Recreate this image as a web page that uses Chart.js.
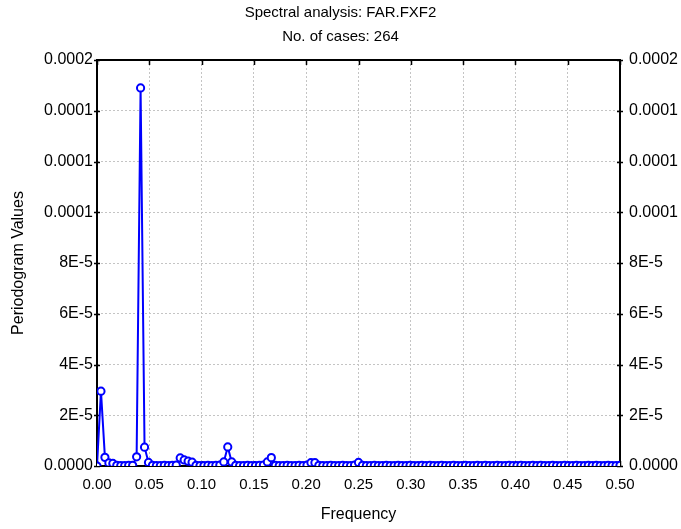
<!DOCTYPE html>
<html>
<head>
<meta charset="utf-8">
<script src="https://cdn.jsdelivr.net/npm/chart.js@4.4.1/dist/chart.umd.min.js"></script>
<style>
  html, body { margin: 0; padding: 0; background: #fff; }
  #chart { display: block; }
</style>
</head>
<body>
<canvas id="chart" width="681" height="529"></canvas>
<script>
// Periodogram of FAR.FXF2, one value per Fourier frequency k/264, k = 0..132
const N_CASES = 264;
const periodogram = [
    0, 2.95e-5, 3.4e-6, 1.2e-6, 1.0e-6, 3e-7, 2e-7, 2e-7, 3e-7, 3e-7,
    3.6e-6, 1.49e-4, 7.4e-6, 1.4e-6, 3e-7, 2e-7, 2e-7, 3e-7, 2e-7, 3e-7,
    4e-7, 3.2e-6, 2.4e-6, 1.9e-6, 1.5e-6, 3e-7, 2e-7, 2e-7, 3e-7, 2e-7,
    3e-7, 4e-7, 1.6e-6, 7.5e-6, 1.6e-6, 3e-7, 2e-7, 2e-7, 3e-7, 2e-7,
    2e-7, 3e-7, 4e-7, 1.6e-6, 3.3e-6, 3e-7, 2e-7, 2e-7, 3e-7, 2e-7,
    2e-7, 3e-7, 2e-7, 4e-7, 1.3e-6, 1.3e-6, 3e-7, 2e-7, 2e-7, 3e-7,
    2e-7, 2e-7, 3e-7, 2e-7, 2e-7, 4e-7, 1.4e-6, 3e-7, 2e-7, 2e-7,
    3e-7, 2e-7, 2e-7, 3e-7, 2e-7, 2e-7, 3e-7, 2e-7, 2e-7, 3e-7,
    2e-7, 2e-7, 3e-7, 2e-7, 3e-7, 2e-7, 2e-7, 3e-7, 2e-7, 2e-7,
    3e-7, 2e-7, 2e-7, 3e-7, 2e-7, 2e-7, 3e-7, 2e-7, 3e-7, 2e-7,
    2e-7, 3e-7, 2e-7, 2e-7, 3e-7, 2e-7, 2e-7, 3e-7, 2e-7, 2e-7,
    3e-7, 2e-7, 3e-7, 2e-7, 2e-7, 3e-7, 2e-7, 2e-7, 3e-7, 2e-7,
    2e-7, 3e-7, 2e-7, 2e-7, 3e-7, 2e-7, 3e-7, 2e-7, 2e-7, 3e-7,
    2e-7, 2e-7, 3e-7
];

// axis ticks
const xTicks = [0, 0.05, 0.10, 0.15, 0.20, 0.25, 0.30, 0.35, 0.40, 0.45, 0.50];
const yTicks = [0, 2e-5, 4e-5, 6e-5, 8e-5, 1.0e-4, 1.2e-4, 1.4e-4, 1.6e-4];

const points = periodogram.map((v, k) => ({ x: k / N_CASES, y: v }));

const FONT = "'Liberation Sans', Arial, sans-serif";

// y labels the way the source program prints them
function yLabel(v) {
    if (Math.abs(v) < 1e-12) return "0.0000";
    if (v < 1e-4 - 1e-12) return Math.round(v / 1e-5) + "E-5";
    return v.toFixed(4);
}

// black frame around the plot with small tick marks
const frame = {
    id: "frame",
    beforeDatasetsDraw(chart) {
        const { ctx, chartArea: a, scales } = chart;
        ctx.save();
        ctx.strokeStyle = "#000";
        ctx.lineWidth = 1.5;
        ctx.beginPath();
        xTicks.forEach(t => {
            const px = Math.round(scales.x.getPixelForValue(t)) + 0.5;
            ctx.moveTo(px, a.top); ctx.lineTo(px, a.top + 5);
            ctx.moveTo(px, a.bottom); ctx.lineTo(px, a.bottom - 5);
        });
        yTicks.forEach(t => {
            const py = Math.round(scales.y.getPixelForValue(t)) + 0.5;
            ctx.moveTo(a.left - 3, py); ctx.lineTo(a.left + 3, py);
            ctx.moveTo(a.right - 3, py); ctx.lineTo(a.right + 3, py);
        });
        ctx.stroke();
        ctx.lineWidth = 2;
        ctx.strokeRect(a.left, a.top, a.right - a.left, a.bottom - a.top);
        ctx.restore();
    }
};

const gridStyle = {
    color: "#c4c4c4",
    lineWidth: 1,
    drawTicks: false,
};

const ctx = document.getElementById("chart").getContext("2d");
const chart = new Chart(ctx, {
    type: "line",
    data: {
        datasets: [{
            data: points,
            borderColor: "#0000ff",
            borderWidth: 2,
            pointRadius: 3.6,
            pointBorderWidth: 2,
            pointBackgroundColor: "#ffffff",
            pointBorderColor: "#0000ff",
            tension: 0,
            fill: false,
        }],
    },
    options: {
        responsive: false,
        animation: false,
        layout: { padding: 0 },
        plugins: {
            legend: { display: false },
            tooltip: { enabled: false },
            title: {
                display: true,
                text: "Spectral analysis: FAR.FXF2",
                color: "#000",
                font: { family: FONT, size: 15, weight: "normal" },
                padding: { top: 4, bottom: 3 },
            },
            subtitle: {
                display: true,
                text: "No. of cases: 264",
                color: "#000",
                font: { family: FONT, size: 15, weight: "normal" },
                padding: { top: 3, bottom: 14 },
            },
        },
        scales: {
            x: {
                type: "linear",
                min: 0,
                max: 0.5,
                afterBuildTicks: s => { s.ticks = xTicks.map(v => ({ value: v })); },
                afterFit: s => { s.height = 63; },
                grid: { ...gridStyle },
                border: { display: false, dash: [2, 2] },
                ticks: {
                    color: "#000",
                    font: { family: FONT, size: 15 },
                    padding: 10,
                    maxRotation: 0,
                    callback: v => v.toFixed(2),
                },
                title: {
                    display: true,
                    text: "Frequency",
                    color: "#000",
                    font: { family: FONT, size: 16 },
                    padding: { top: 4, bottom: 5 },
                },
            },
            y: {
                position: "left",
                min: 0,
                max: 1.6e-4,
                afterBuildTicks: s => { s.ticks = yTicks.map(v => ({ value: v })); },
                afterFit: s => { s.width = 97; },
                grid: { ...gridStyle },
                border: { display: false, dash: [2, 2] },
                ticks: {
                    color: "#000",
                    font: { family: FONT, size: 16 },
                    padding: 4,
                    callback: yLabel,
                },
                title: {
                    display: true,
                    text: "Periodogram Values",
                    color: "#000",
                    font: { family: FONT, size: 16 },
                    padding: { top: 9, bottom: 4 },
                },
            },
            y2: {
                position: "right",
                min: 0,
                max: 1.6e-4,
                afterBuildTicks: s => { s.ticks = yTicks.map(v => ({ value: v })); },
                afterFit: s => { s.width = 61; },
                grid: { display: false, drawTicks: false },
                border: { display: false },
                ticks: {
                    color: "#000",
                    font: { family: FONT, size: 16 },
                    padding: 9,
                    callback: yLabel,
                },
            },
        },
    },
    plugins: [frame],
});
</script>
</body>
</html>
